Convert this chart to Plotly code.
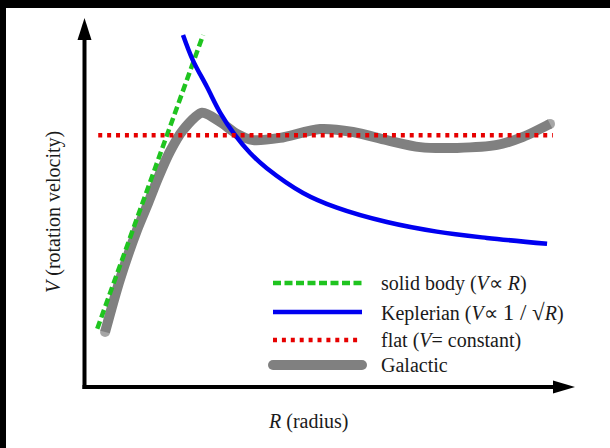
import plotly.graph_objects as go

# ---- data (arbitrary units: R 0..10, V 0..10) ----
solid_R = [0.25, 2.41]
solid_V = [1.58, 9.54]

kepler_R = [2.00, 2.20, 2.49, 2.76, 3.06, 3.37, 3.71, 4.45, 5.14, 6.16, 7.18, 8.20, 9.43]
kepler_V = [9.54, 8.86, 8.13, 7.43, 6.83, 6.34, 5.93, 5.26, 4.86, 4.47, 4.21, 4.04, 3.88]

flat_R = [0.27, 9.55]
flat_V = [6.82, 6.82]

gal_R = [0.41, 0.71, 1.06, 1.29, 1.49, 1.73, 2.00, 2.39, 2.76, 3.10, 3.43, 3.98,
         4.80, 5.47, 6.16, 6.84, 7.59, 8.41, 8.94, 9.49]
gal_V = [1.49, 2.90, 4.25, 4.99, 5.66, 6.37, 6.96, 7.43, 7.18, 6.86, 6.69, 6.75,
         6.99, 6.91, 6.69, 6.50, 6.48, 6.56, 6.78, 7.13]

legend_labels = [
    "solid body (<i>V</i>∝ <i>R</i>)",
    "Keplerian (<i>V</i>∝ <span style='font-size:23px'>1 / √</span><i>R</i>)",
    "flat (<i>V</i>= constant)",
    "Galactic",
]
x_title = "<i>R</i> (radius)"
y_title = "<i>V</i> (rotation velocity)"

GREEN = "#1fc41f"
BLUE = "#0000f0"
RED = "#e60000"
GRAY = "#808080"
FONT = "Liberation Serif"
FS = 20

fig = go.Figure()

gsizes = [10] + [0] * (len(gal_R) - 2) + [10]
fig.add_trace(go.Scatter(x=gal_R, y=gal_V, mode="lines+markers",
                         line=dict(color=GRAY, width=10, shape="spline", smoothing=0.8),
                         marker=dict(size=gsizes, color=GRAY, line=dict(width=0)),
                         showlegend=False, hoverinfo="skip"))
fig.add_trace(go.Scatter(x=solid_R, y=solid_V, mode="lines",
                         line=dict(color=GREEN, width=4.5, dash="8px,4px"),
                         showlegend=False, hoverinfo="skip"))
fig.add_trace(go.Scatter(x=kepler_R, y=kepler_V, mode="lines",
                         line=dict(color=BLUE, width=4.5, shape="spline", smoothing=1.0),
                         showlegend=False, hoverinfo="skip"))
fig.add_trace(go.Scatter(x=flat_R, y=flat_V, mode="lines",
                         line=dict(color=RED, width=4.5, dash="4px,4.9px"),
                         showlegend=False, hoverinfo="skip"))


def px(p):
    return (p - 85) / 490


def py(p):
    return (387 - p) / 369


shapes = []
# axes with arrowheads (paper coordinates, not clipped)
shapes.append(dict(type="line", xref="paper", yref="paper",
                   x0=px(84.5), y0=py(389), x1=px(84.5), y1=py(38),
                   line=dict(color="black", width=4)))
shapes.append(dict(type="path", xref="paper", yref="paper",
                   path=f"M {px(84.5)} {py(18)} L {px(77.5)} {py(40)} L {px(91.5)} {py(40)} Z",
                   fillcolor="black", line=dict(width=0)))
shapes.append(dict(type="line", xref="paper", yref="paper",
                   x0=px(82.5), y0=py(387), x1=px(556), y1=py(387),
                   line=dict(color="black", width=4)))
shapes.append(dict(type="path", xref="paper", yref="paper",
                   path=f"M {px(575)} {py(387)} L {px(553)} {py(380.5)} L {px(553)} {py(393.5)} Z",
                   fillcolor="black", line=dict(width=0)))

# black frame bars (top and left)
shapes.append(dict(type="rect", xref="paper", yref="paper", x0=px(-5), x1=px(615),
                   y0=py(8), y1=py(-5), fillcolor="black", line=dict(width=0), layer="above"))
shapes.append(dict(type="rect", xref="paper", yref="paper", x0=px(-5), x1=px(6),
                   y0=py(455), y1=py(-5), fillcolor="black", line=dict(width=0), layer="above"))

# manual legend
lx0, lx1 = px(273), px(362)
ly = [py(p) for p in (283, 312, 340, 365)]
styles = [
    dict(color=GREEN, width=4.5, dash="8px,3.5px"),
    dict(color=BLUE, width=4.5),
    dict(color=RED, width=4.5, dash="4px,4.9px"),
    dict(color=GRAY, width=10),
]
for yy, st in zip(ly, styles):
    shapes.append(dict(type="line", xref="paper", yref="paper", x0=lx0, x1=lx1, y0=yy, y1=yy,
                       line=st))
rx, ry = 5 / 490, 5 / 369
for cx in (lx0, lx1):
    shapes.append(dict(type="circle", xref="paper", yref="paper",
                       x0=cx - rx, x1=cx + rx, y0=ly[3] - ry, y1=ly[3] + ry,
                       fillcolor=GRAY, line=dict(width=0)))

annotations = []
tx = px(379)
for yy, lab in zip(ly, legend_labels):
    annotations.append(dict(text=lab, xref="paper", yref="paper", x=tx, y=yy,
                            xanchor="left", yanchor="middle", showarrow=False,
                            font=dict(family=FONT, size=FS, color="#1a1a1a")))
annotations.append(dict(text=x_title, xref="paper", yref="paper",
                        x=px(308), y=py(421),
                        xanchor="center", yanchor="middle", showarrow=False,
                        font=dict(family=FONT, size=FS, color="#1a1a1a")))
annotations.append(dict(text=y_title, xref="paper", yref="paper",
                        x=px(53), y=py(212), textangle=-90,
                        xanchor="center", yanchor="middle", showarrow=False,
                        font=dict(family=FONT, size=FS, color="#1a1a1a")))

fig.update_layout(
    width=610, height=448,
    margin=dict(l=85, r=35, t=18, b=61),
    paper_bgcolor="white", plot_bgcolor="white",
    font=dict(family=FONT),
    xaxis=dict(range=[0, 10], visible=False, fixedrange=True),
    yaxis=dict(range=[0, 10], visible=False, fixedrange=True),
    shapes=shapes, annotations=annotations, showlegend=False,
)
fig.update_traces(cliponaxis=False)

fig.write_html("out.html", config={"displayModeBar": False},
               post_script="document.body.style.margin='0';document.body.style.padding='0';document.body.style.overflow='hidden';")
